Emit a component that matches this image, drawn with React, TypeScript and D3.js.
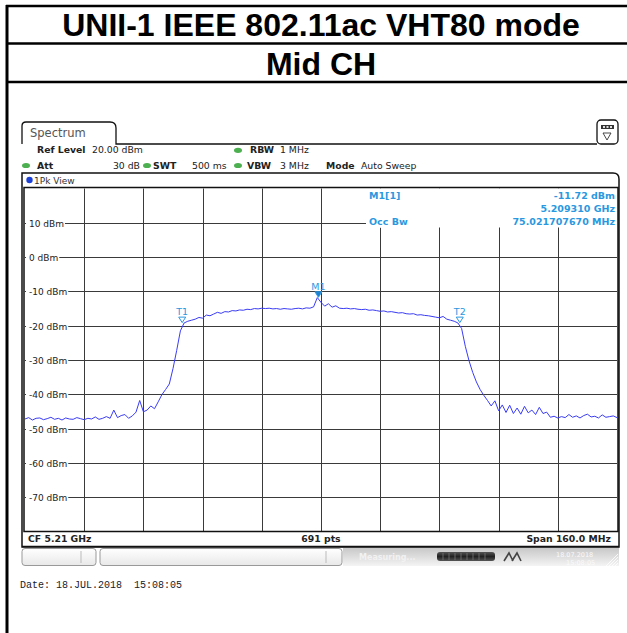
import React, { useEffect, useRef } from 'react';
import * as d3 from 'd3';

const titleLines = ['UNII-1 IEEE 802.11ac VHT80 mode', 'Mid CH'];

const startMHz = 5130;
const stopMHz = 5290;
const stepMHz = 1;
const freqDivisions = 10;
const levelMin = -80;
const levelMax = 20;
const levelTicks = [10, 0, -10, -20, -30, -40, -50, -60, -70];

// one reading per MHz, 5130 .. 5290
const traceLevels = [
  // 5130-5139
  -47.2, -46.8, -47.5, -47.0, -46.9, -47.4, -47.1, -46.7, -47.3, -47.0,
  // 5140-5149
  -47.5, -46.9, -47.2, -47.3, -46.8, -47.1, -47.4, -47.0, -47.2, -46.6,
  // 5150-5159
  -47.3, -47.0, -46.5, -47.0, -44.6, -46.8, -46.2, -45.9, -47.0, -46.3,
  // 5160-5169
  -45.2, -41.8, -45.1, -44.6, -43.4, -44.2, -42.2, -40.1, -38.6, -37.0,
  // 5170-5179
  -32.5, -27.2, -21.5, -19.2, -18.7, -18.4, -18.1, -17.6, -17.8, -16.9,
  // 5180-5189
  -17.1, -16.6, -16.1, -16.4, -15.9, -16.0, -15.6, -15.7, -15.4, -15.5,
  // 5190-5199
  -15.2, -15.3, -15.0, -15.1, -14.9, -15.0, -14.9, -15.1, -15.0, -15.2,
  // 5200-5209
  -15.0, -15.1, -15.2, -15.0, -14.9, -15.1, -14.8, -14.9, -14.5, -11.8,
  // 5210-5219
  -13.2, -14.3, -13.6, -14.6, -14.2, -14.9, -15.0, -14.9, -15.1, -15.0,
  // 5220-5229
  -15.2, -15.3, -15.2, -15.5, -15.4, -15.6, -15.8, -15.7, -16.0, -15.9,
  // 5230-5239
  -16.1, -16.3, -16.2, -16.5, -16.6, -16.5, -16.9, -16.8, -17.0, -17.1,
  // 5240-5249
  -17.3, -17.5, -17.7, -17.3, -18.1, -18.4, -18.7, -19.2, -20.8, -26.0,
  // 5250-5259
  -30.2, -33.6, -36.4, -38.6, -40.3, -41.8, -43.4, -41.9, -44.8, -43.1,
  // 5260-5269
  -45.3, -43.2, -45.6, -44.0, -45.8, -43.5, -45.4, -44.6, -45.9, -43.8,
  // 5270-5279
  -45.6, -45.2, -46.7, -46.4, -46.9, -46.5, -46.8, -45.9, -46.7, -46.3,
  // 5280-5289
  -46.9, -46.2, -45.8, -46.6, -46.4, -46.9, -46.0, -46.7, -46.5, -46.3,
  // 5290
  -46.8,
];

const markerNames = ['T1', 'M1', 'T2'];
const markerFreqs = [5172.49, 5209.31, 5247.51];
const markerLevels = [-19.1, -11.72, -19.1];
const markerFilled = [false, true, false];

const readoutLeft = ['M1[1]', '', 'Occ Bw'];
const readoutRight = ['-11.72 dBm', '5.209310 GHz', '75.021707670 MHz'];

const footerTexts = ['CF 5.21 GHz', '691 pts', 'Span 160.0 MHz'];
const dateText = 'Date: 18.JUL.2018  15:08:05';

const SANS = "'DejaVu Sans', Verdana, sans-serif";
const ARIAL = "'Liberation Sans', Arial, sans-serif";
const BLUE_TXT = '#2a98e0';
const GREEN = '#4cb050';

export default function App() {
  const svgRef = useRef<SVGSVGElement>(null);

  useEffect(() => {
    const svg = d3.select(svgRef.current);
    svg.selectAll('*').remove();

    // ---- outer table
    svg.append('line').attr('x1', 7).attr('x2', 7).attr('y1', 5).attr('y2', 633)
      .attr('stroke', '#000').attr('stroke-width', 3);
    [6, 43.5, 82].forEach(yy => {
      svg.append('line').attr('x1', 6).attr('x2', 627).attr('y1', yy).attr('y2', yy)
        .attr('stroke', '#000').attr('stroke-width', 2.5);
    });
    titleLines.forEach((t, i) => {
      svg.append('text').attr('x', 321).attr('y', i === 0 ? 36 : 74.5)
        .attr('text-anchor', 'middle').attr('font-family', ARIAL)
        .attr('font-weight', 'bold').attr('font-size', 32).attr('fill', '#000').text(t);
    });

    // ---- spectrum tab
    svg.append('path')
      .attr('d', 'M22,144 L22,126 Q22,122 26,122 L110,122 Q116,122 116,128 L116,144 L597,144')
      .attr('fill', 'none').attr('stroke', '#111').attr('stroke-width', 1.3);
    svg.append('text').attr('x', 30).attr('y', 137).attr('font-family', SANS)
      .attr('font-size', 11.5).attr('fill', '#555').text('Spectrum');
    // icon box
    svg.append('rect').attr('x', 597).attr('y', 120).attr('width', 21).attr('height', 24)
      .attr('rx', 4).attr('fill', '#fff').attr('stroke', '#111').attr('stroke-width', 1.3);
    svg.append('rect').attr('x', 601).attr('y', 125).attr('width', 13).attr('height', 4)
      .attr('fill', '#333');
    [603, 606.5, 610].forEach(xx => {
      svg.append('rect').attr('x', xx).attr('y', 126).attr('width', 2).attr('height', 2).attr('fill', '#ddd');
    });
    svg.append('path').attr('d', 'M603,133 L611,133 L607,140 Z').attr('fill', 'none')
      .attr('stroke', '#333').attr('stroke-width', 0.9);

    // ---- settings rows
    const settings = svg.append('g').attr('font-family', SANS).attr('font-size', 9.3).attr('fill', '#222');
    const put = (x: number, y: number, t: string, bold = false, anchor = 'start') =>
      settings.append('text').attr('x', x).attr('y', y).attr('font-weight', bold ? 'bold' : 'normal')
        .attr('text-anchor', anchor).text(t);
    const dot = (x: number, y: number) =>
      settings.append('ellipse').attr('cx', x).attr('cy', y).attr('rx', 4).attr('ry', 2.6).attr('fill', GREEN);
    put(37, 153, 'Ref Level', true);
    put(92, 153, '20.00 dBm');
    dot(238, 150.3);
    put(250, 153, 'RBW', true);
    put(280, 153, '1 MHz');
    dot(26, 165.5);
    put(37, 168.5, 'Att', true);
    put(140, 168.5, '30 dB', false, 'end');
    dot(147, 165.5);
    put(153, 168.5, 'SWT', true);
    put(192, 168.5, '500 ms');
    dot(238, 165.5);
    put(247, 168.5, 'VBW', true);
    put(280, 168.5, '3 MHz');
    put(326, 168.5, 'Mode', true);
    put(361, 168.5, 'Auto Sweep');

    // ---- view box
    svg.append('path')
      .attr('d', 'M22,547 L22,173 L613,173 Q619,173 619,179 L619,547 Z')
      .attr('fill', '#fff').attr('stroke', '#111').attr('stroke-width', 1.5);
    svg.append('circle').attr('cx', 29.5).attr('cy', 180).attr('r', 3.2).attr('fill', '#1c3fd6');
    svg.append('text').attr('x', 34).attr('y', 183.5).attr('font-family', SANS)
      .attr('font-size', 9).attr('fill', '#333').text('1Pk View');

    // ---- scales
    const x = d3.scaleLinear().domain([startMHz, stopMHz]).range([25, 617]);
    const y = d3.scaleLinear().domain([levelMin, levelMax]).range([531.5, 188.5]);

    const plot = svg.append('g');
    // grid
    const divW = (stopMHz - startMHz) / freqDivisions;
    d3.range(1, freqDivisions).forEach(i => {
      const xx = Math.round(x(startMHz + i * divW)) + 0.5;
      plot.append('line').attr('x1', xx).attr('x2', xx).attr('y1', y(levelMax)).attr('y2', y(levelMin))
        .attr('stroke', '#3a3a3a').attr('stroke-width', 1);
    });
    levelTicks.forEach(v => {
      const yy = Math.round(y(v)) + 0.5;
      plot.append('line').attr('x1', x(startMHz)).attr('x2', x(stopMHz)).attr('y1', yy).attr('y2', yy)
        .attr('stroke', '#3a3a3a').attr('stroke-width', 1);
    });

    // readout background
    plot.append('rect').attr('x', 366).attr('y', y(levelMax)).attr('width', x(stopMHz) - 366)
      .attr('height', 39).attr('fill', '#fff');

    // level labels
    levelTicks.forEach(v => {
      const yy = Math.round(y(v)) + 0.5;
      const t = plot.append('text').attr('x', 29).attr('y', yy + 3.3).attr('font-family', SANS)
        .attr('font-size', 9).attr('fill', '#222').text(`${v} dBm`);
      const bb = (t.node() as SVGTextElement).getBBox();
      plot.insert('rect', () => t.node() as any).attr('x', x(startMHz) + 1).attr('y', yy - 4)
        .attr('width', bb.x + bb.width - x(startMHz)).attr('height', 8).attr('fill', '#fff');
    });

    // readout texts
    readoutLeft.forEach((t, i) => {
      const yy = 199 + i * 12.8;
      if (t) {
        const tt = plot.append('text').attr('x', 369).attr('y', yy).attr('font-family', SANS)
          .attr('font-weight', 'bold').attr('font-size', 9.5).attr('fill', BLUE_TXT).text(t);
        const bb = (tt.node() as SVGTextElement).getBBox();
        plot.insert('rect', () => tt.node() as any).attr('x', bb.x - 1).attr('y', yy - 8)
          .attr('width', bb.width + 2).attr('height', 11).attr('fill', '#fff');
      }
      plot.append('text').attr('x', 615).attr('y', yy).attr('text-anchor', 'end')
        .attr('font-family', SANS).attr('font-weight', 'bold').attr('font-size', 9.5)
        .attr('fill', BLUE_TXT).text(readoutRight[i]);
    });

    // trace
    const freqs = traceLevels.map((_, i) => startMHz + i * stepMHz);
    const line = d3.line<number>().x((_, i) => x(freqs[i])).y(d => y(d));
    plot.append('path').datum(traceLevels).attr('d', line).attr('fill', 'none')
      .attr('stroke', '#3a3cf5').attr('stroke-width', 1);

    // markers
    markerNames.forEach((name, i) => {
      const mx = x(markerFreqs[i]);
      const my = y(markerLevels[i]);
      plot.append('path').attr('d', `M${mx - 3.5},${my - 5.5} L${mx + 3.5},${my - 5.5} L${mx},${my} Z`)
        .attr('fill', markerFilled[i] ? '#1e7fd0' : '#fff').attr('stroke', BLUE_TXT).attr('stroke-width', 1);
      plot.append('text').attr('x', mx).attr('y', my - 7.5).attr('text-anchor', 'middle')
        .attr('font-family', SANS).attr('font-size', 9.5).attr('fill', BLUE_TXT).text(name);
    });

    // plot frame
    plot.append('rect').attr('x', x(startMHz) - 1).attr('y', y(levelMax) - 1)
      .attr('width', x(stopMHz) - x(startMHz) + 2).attr('height', y(levelMin) - y(levelMax) + 1)
      .attr('fill', 'none').attr('stroke', '#111').attr('stroke-width', 1.5);

    // footer
    svg.append('line').attr('x1', 22).attr('x2', 619).attr('y1', 546.5).attr('y2', 546.5)
      .attr('stroke', '#111').attr('stroke-width', 1.5);
    const foot = svg.append('g').attr('font-family', SANS).attr('font-weight', 'bold')
      .attr('font-size', 9.3).attr('fill', '#222');
    foot.append('text').attr('x', 28).attr('y', 542).text(footerTexts[0]);
    foot.append('text').attr('x', 321).attr('y', 542).attr('text-anchor', 'middle').text(footerTexts[1]);
    foot.append('text').attr('x', 611).attr('y', 542).attr('text-anchor', 'end').text(footerTexts[2]);

    // ---- status bar
    const defs = svg.append('defs');
    const g1 = defs.append('linearGradient').attr('id', 'boxg').attr('x1', 0).attr('x2', 0).attr('y1', 0).attr('y2', 1);
    g1.append('stop').attr('offset', '0%').attr('stop-color', '#ffffff');
    g1.append('stop').attr('offset', '100%').attr('stop-color', '#e8e8e8');
    const g2 = defs.append('linearGradient').attr('id', 'barg').attr('x1', 0).attr('x2', 0).attr('y1', 0).attr('y2', 1);
    g2.append('stop').attr('offset', '0%').attr('stop-color', '#c8c8c8');
    g2.append('stop').attr('offset', '100%').attr('stop-color', '#f4f4f4');
    const g3 = defs.append('linearGradient').attr('id', 'progg').attr('x1', 0).attr('x2', 0).attr('y1', 0).attr('y2', 1);
    g3.append('stop').attr('offset', '0%').attr('stop-color', '#555');
    g3.append('stop').attr('offset', '50%').attr('stop-color', '#222');
    g3.append('stop').attr('offset', '100%').attr('stop-color', '#555');

    svg.append('rect').attr('x', 343).attr('y', 548).attr('width', 276).attr('height', 18).attr('fill', 'url(#barg)');
    svg.append('rect').attr('x', 22).attr('y', 548.5).attr('width', 74).attr('height', 17).attr('rx', 3)
      .attr('fill', 'url(#boxg)').attr('stroke', '#999');
    svg.append('line').attr('x1', 81).attr('x2', 81).attr('y1', 551).attr('y2', 563).attr('stroke', '#bbb');
    svg.append('rect').attr('x', 100).attr('y', 548.5).attr('width', 242).attr('height', 17).attr('rx', 3)
      .attr('fill', 'url(#boxg)').attr('stroke', '#999');
    svg.append('line').attr('x1', 326).attr('x2', 326).attr('y1', 551).attr('y2', 563).attr('stroke', '#bbb');
    svg.append('text').attr('x', 359).attr('y', 560).attr('font-family', SANS).attr('font-size', 8)
      .attr('font-weight', 'bold').attr('fill', '#f2f2f2').text('Measuring...');
    svg.append('rect').attr('x', 437).attr('y', 552).attr('width', 58).attr('height', 9).attr('rx', 3)
      .attr('fill', 'url(#progg)');
    d3.range(0, 8).forEach(i => {
      svg.append('line').attr('x1', 443 + i * 6).attr('x2', 443 + i * 6).attr('y1', 553).attr('y2', 560)
        .attr('stroke', '#777').attr('stroke-width', 0.8);
    });
    svg.append('path').attr('d', 'M504,561 L509,553 L513,561 M512,561 L517,553 L521,561')
      .attr('fill', 'none').attr('stroke', '#444').attr('stroke-width', 1.6);
    svg.append('text').attr('x', 556).attr('y', 557).attr('font-family', SANS).attr('font-size', 6.5)
      .attr('fill', '#fafafa').text('18.07.2018');
    svg.append('text').attr('x', 566).attr('y', 564.5).attr('font-family', SANS).attr('font-size', 6.5)
      .attr('fill', '#fafafa').text('15:08:05');
    d3.range(0, 5).forEach(i => {
      svg.append('line').attr('x1', 606 + i * 3).attr('x2', 618).attr('y1', 566).attr('y2', 554 + i * 3)
        .attr('stroke', '#fff').attr('stroke-width', 0.8);
    });

    // date
    svg.append('text').attr('x', 20).attr('y', 588).attr('font-family', "'Liberation Mono', monospace")
      .attr('font-size', 10).attr('fill', '#1a1a2a').style('white-space', 'pre').text(dateText);
  }, []);

  return (
    <svg ref={svgRef} width={627} height={633}
      style={{ position: 'absolute', left: 0, top: 0, background: '#fff' }} />
  );
}
